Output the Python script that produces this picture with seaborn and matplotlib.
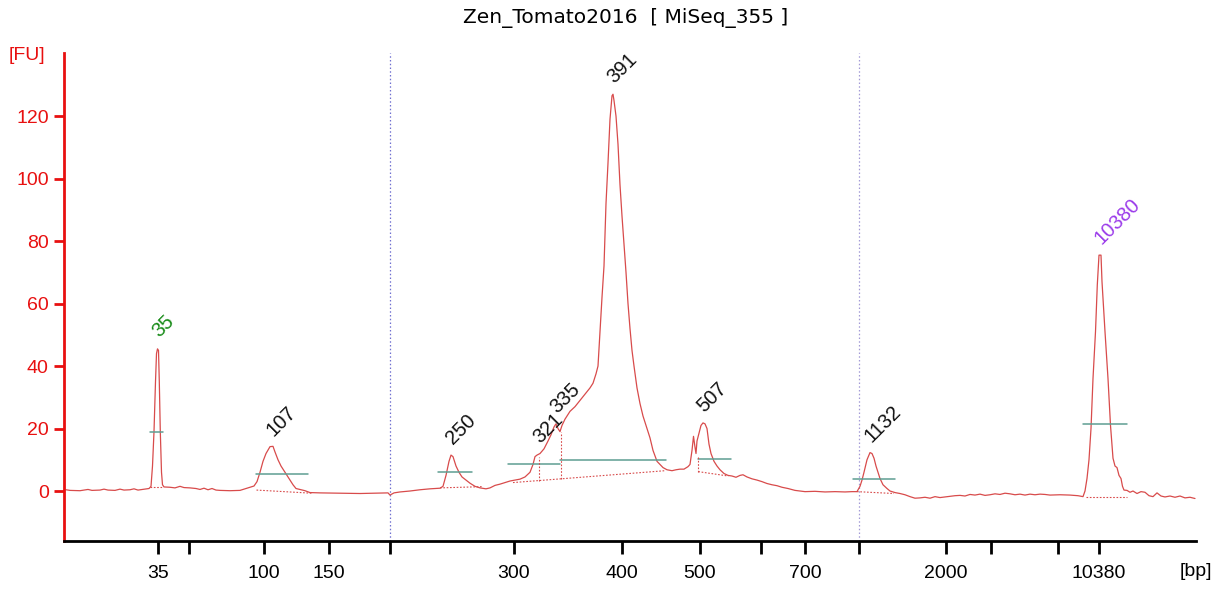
import numpy as np
import pandas as pd
import matplotlib
matplotlib.use("Agg")
import matplotlib.pyplot as plt
import seaborn as sns

# ---------------- data (migration position vs fluorescence) ----------------
trace_pos = [66, 70, 80, 88, 92, 100, 104, 108, 115, 120, 124, 130, 134, 138, 145, 149,
             151, 152.5, 154, 155.5, 156.5, 157.5, 158.5, 159.3, 160.3, 161.5, 162.5, 164,
             170, 175, 180, 184, 190, 196, 200, 204, 208, 212, 216, 220, 230, 240,
             246, 250, 254, 257, 260, 263, 266, 270, 273, 275, 278, 281, 284, 287, 290, 293,
             296, 300, 305, 310, 320, 340, 360, 375, 388, 390, 394, 400, 410, 420, 430, 440,
             443, 446, 449, 451, 453, 456, 459, 462, 466, 470, 475, 480, 486, 490, 495, 500,
             505, 510, 515, 520, 525, 530, 533, 535, 537, 540, 544, 548, 551, 554, 556, 558,
             560, 562, 565, 570, 575, 580, 585, 590, 593, 596, 598, 600, 602, 604, 606, 608,
             610, 612, 613, 614, 616, 618, 620, 622, 624, 626, 628, 630, 632, 634, 637, 640,
             643, 646, 650, 653, 657, 660, 663, 667, 672, 676, 680, 684, 688, 690, 692, 693.5,
             695, 696, 697, 699, 701, 703, 705, 707, 709, 711, 714, 717, 720, 724, 728, 732,
             736, 740, 743, 747, 752, 757, 762, 767, 772, 777, 782, 788, 795, 805, 815, 825,
             835, 845, 852, 857, 860, 862, 864, 867, 870, 872, 874, 876, 878, 880, 883, 887,
             890, 895, 900, 905, 910, 915, 920, 925, 930, 935, 940, 945, 950, 955, 960, 965,
             970, 975, 980, 985, 990, 995, 1000, 1005, 1010, 1015, 1020, 1025, 1030, 1035,
             1040, 1045, 1050, 1060, 1070, 1078, 1083, 1085, 1087, 1089, 1091, 1093, 1095.5,
             1097.3, 1099, 1101, 1102, 1105, 1108, 1110.5, 1113, 1115, 1117, 1119, 1121,
             1122.5, 1124, 1127, 1130, 1133, 1137, 1141, 1145, 1149, 1153, 1157, 1161, 1165,
             1170, 1175, 1180, 1185, 1190, 1195]
trace_fu = [0.4, 0.2, 0.1, 0.5, 0.2, 0.3, 0.6, 0.3, 0.2, 0.6, 0.3, 0.4, 0.7, 0.3, 0.6, 0.8,
            1.5, 8, 19, 35, 44, 45.5, 45, 35, 19, 6, 2, 1.3,
            1.2, 1.0, 1.5, 1.1, 1.0, 0.8, 0.5, 0.9, 0.4, 0.8, 0.3, 0.2, 0.1, 0.2,
            0.8, 1.2, 1.6, 3, 6, 9.5, 12, 14.2, 14.3, 12.5, 10, 8, 6.5, 5.0, 3.5, 2,
            0.8, 0.5, 0.1, -0.5, -0.6, -0.7, -0.8, -0.7, -0.6, -1.3, -0.6, -0.3, 0.0, 0.4, 0.7, 0.9,
            1.5, 5, 9.5, 11.5, 11, 8, 6, 4.5, 3.5, 2.5, 1.5, 1.0, 0.7, 1.0, 1.8, 2.2,
            2.7, 3.2, 3.5, 3.8, 4.5, 6, 8.5, 11, 11.5, 12, 13.5, 16, 18, 20.5, 21.5, 20,
            19, 21, 23, 25.5, 27, 29, 31, 33, 34.5, 37.5, 40, 51, 62, 72, 92, 105,
            119, 126.5, 127, 125, 120, 111, 98, 88, 79, 70, 60, 52, 45, 40, 33, 28,
            24, 21, 17, 13, 9.5, 8.5, 7.5, 6.8, 6.5, 6.8, 7, 7, 7.8, 8.5, 13, 17.5,
            14, 12, 16, 18.5, 21, 21.8, 21.5, 20, 15, 12, 9.5, 8, 6.8, 5.6, 5, 4.8,
            4.4, 5, 5.2, 4.5, 3.9, 3.5, 3, 2.4, 2, 1.7, 1.2, 0.8, 0.2, -0.2, -0.1, -0.3,
            -0.2, -0.3, -0.2, -0.2, 1.5, 3.5, 6, 10, 12.3, 12, 10.5, 8, 6, 4, 2, 0.8,
            0, -0.5, -0.8, -1.2, -1.8, -2.3, -2.2, -2, -2.3, -1.8, -2.1, -1.9, -1.7, -1.5, -1.4, -1.6,
            -1.1, -1.3, -1.0, -1.4, -1.2, -0.9, -1.1, -0.7, -0.9, -1.2, -1.0, -1.3, -1.0, -1.2,
            -1.0, -1.1, -1.3, -1.2, -1.3, -1.5, -1.8, 0, 4, 10, 20, 36, 51,
            66, 75.5, 75.5, 67, 51, 36, 21, 10.5, 8, 7.5, 5, 4,
            1.5, 0.3, 0.2, -0.4, 0, -0.8, -0.2, -0.4, -1.5, -1.8, -0.6, -1.6, -1.9,
            -1.6, -2.0, -1.6, -2.2, -2.0, -2.4]

# x axis: size ladder (bp) at migration positions
tick_pos = [158, 189, 264, 329, 390, 514, 622, 700, 761, 805, 859, 946, 991, 1058, 1099]
tick_lab = ["35", "", "100", "150", "", "300", "400", "500", "", "700", "", "2000", "", "", "10380"]
y_ticks = [0, 20, 40, 60, 80, 100, 120]

# called peaks
peak_labels = ["35", "107", "250", "321", "335", "391", "507", "1132", "10380"]
peak_pos = [157.8, 272, 451.5, 539, 556, 613, 703, 870.5, 1100]
peak_fu = [45.8, 14.3, 11.7, 12.0, 21.5, 127, 21.8, 12.3, 75.6]
peak_kind = ["marker", "peak", "peak", "peak", "peak", "peak", "peak", "peak", "marker_hi"]

# half-height (width) segments: start, end, level
half_x0 = [150, 256, 438, 508, 560, 698, 852.5, 1083]
half_x1 = [163, 308, 472, 560, 666, 731, 894.5, 1127]
half_y = [18.8, 5.3, 6.0, 8.5, 9.8, 10.3, 3.9, 21.4]

# peak baselines (dotted): start, end, level at start, level at end
base_x0 = [150, 256.5, 440, 513, 698.3, 857, 1086]
base_x1 = [163, 311.7, 483, 665, 728.3, 894, 1127]
base_y0 = [1.4, 0.3, 1.0, 2.7, 6.2, -0.2, -1.8]
base_y1 = [1.4, -0.7, 1.4, 6.5, 4.8, -0.8, -1.8]

# peak split drop lines: position, top, bottom
drop_x = [539.3, 560.7, 698.3]
drop_top = [11.0, 19.0, 11.0]
drop_bot = [3.2, 3.7, 6.2]

# window marks
window_pos = [390, 859]

# ---------------- style ----------------
TRACE = "#D84B4B"
TEAL = "#5E9E92"
RED_AX = "#E81010"

sns.set_theme(style="white")
plt.rcParams["font.family"] = ["Liberation Sans", "DejaVu Sans"]

W, H = 1216, 590
fig = plt.figure(figsize=(W / 100, H / 100), dpi=100)
ax = fig.add_axes([64 / W, 49 / H, 1132 / W, 488 / H])

df = pd.DataFrame({"pos": trace_pos, "fu": trace_fu})
sns.lineplot(data=df, x="pos", y="fu", ax=ax, color=TRACE, lw=0.9,
             sort=False, estimator=None)

for x0, x1, y in zip(half_x0, half_x1, half_y):
    ax.plot([x0, x1], [y, y], color=TEAL, lw=1.1)
for x0, x1, y0, y1 in zip(base_x0, base_x1, base_y0, base_y1):
    ax.plot([x0, x1], [y0, y1], color=TRACE, lw=0.8, ls=(0, (1.5, 1.5)))
for x, t, b in zip(drop_x, drop_top, drop_bot):
    ax.plot([x, x], [b, t], color=TRACE, lw=0.8, ls=(0, (1.5, 1.5)))
for i, x in enumerate(window_pos):
    ax.axvline(x, color="#7070D0" if i == 0 else "#A39AD6", lw=0.9,
               ls=(0, (1.2, 1.8)), zorder=0)

colors = {"marker": "#168A16", "peak": "#111111", "marker_hi": "#9B3BEA"}
for lab, x, y, k in zip(peak_labels, peak_pos, peak_fu, peak_kind):
    ax.annotate(lab, (x, y), xytext=(4, 7), textcoords="offset pixels",
                rotation=45, rotation_mode="anchor", ha="left", va="bottom",
                fontsize=14.5, color=colors[k])

ax.set_xlim(64, 1196)
ax.set_ylim(-16, 140.2)
ax.set_xlabel("")
ax.set_ylabel("")
ax.set_xticks(tick_pos)
ax.set_xticklabels(tick_lab)
ax.set_yticks(y_ticks)
ax.set_yticklabels([str(v) for v in y_ticks])

for s in ["top", "right"]:
    ax.spines[s].set_visible(False)
ax.spines["left"].set_color(RED_AX)
ax.spines["left"].set_linewidth(2)
ax.spines["bottom"].set_color("black")
ax.spines["bottom"].set_linewidth(2)
ax.tick_params(axis="x", direction="out", length=9, width=2, color="black",
               labelsize=14, labelcolor="black", pad=8, bottom=True)
ax.tick_params(axis="y", direction="out", length=7, width=2, color=RED_AX,
               labelsize=14, labelcolor=RED_AX, pad=4, left=True)

fig.text(626 / W, 1 - 18 / H, "Zen_Tomato2016  [ MiSeq_355 ]", ha="center",
         va="center", fontsize=14.5, color="black", family=["DejaVu Sans"])
fig.text(27 / W, 1 - 56 / H, "[FU]", ha="center", va="center", fontsize=14, color=RED_AX)
fig.text(1196 / W, 1 - 572 / H, "[bp]", ha="center", va="center", fontsize=14, color="black")

fig.savefig("out.png", dpi=100)
